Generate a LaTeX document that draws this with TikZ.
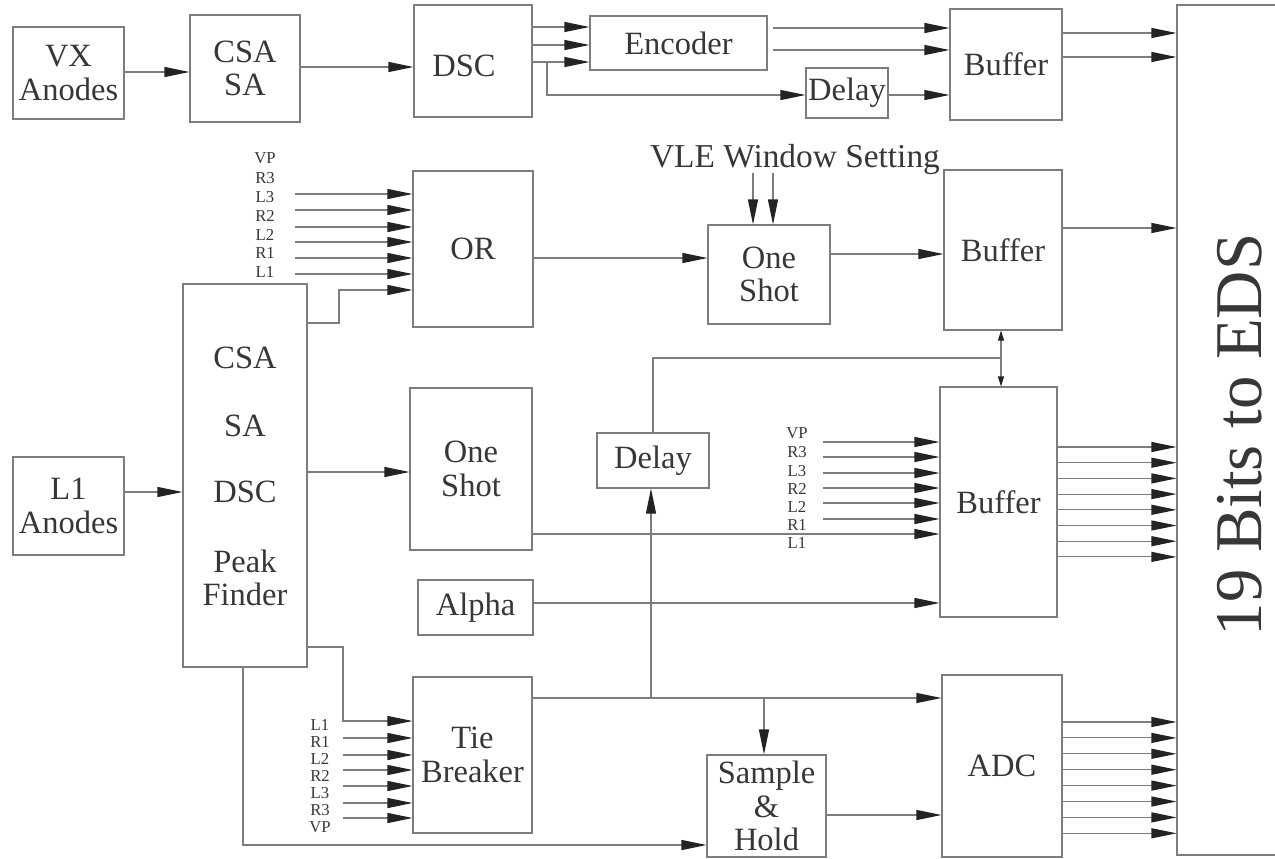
\documentclass[tikz,border=0pt]{standalone}
\usepackage{fontspec}
\setmainfont{Liberation Serif}
\usetikzlibrary{arrows.meta,fit,calc}
\definecolor{linegray}{RGB}{125,125,125}
\definecolor{txt}{RGB}{55,55,55}
\definecolor{tipc}{RGB}{35,35,35}
\begin{document}
\begin{tikzpicture}[x=0.02cm,y=-0.02cm,
  line/.style={draw=linegray, line width=0.6pt},
  box/.style={draw=linegray, line width=0.6pt, inner sep=0pt},
  lbl/.style={text=txt, inner sep=0pt, align=center, font=\fontsize{18.5}{19}\selectfont},
  arr/.style={line, -{Triangle[length=0.5cm,width=0.2cm,color=tipc]}},
  dbl/.style={line, {Triangle[length=0.2cm,width=0.12cm,color=tipc]}-{Triangle[length=0.2cm,width=0.12cm,color=tipc]}},
  sig/.style={text=txt, inner sep=0pt, font=\fontsize{9.5}{10}\selectfont}
]
\useasboundingbox (0,0) rectangle (1275,859);

% ---------- boxes ----------
\node[box, fit={(13,27) (124,119)}, label={[lbl]center:VX\\Anodes}] (vx) {};
\node[box, fit={(190,15) (300,122)}, label={[lbl]center:CSA\\SA}] (csa1) {};
\node[box, fit={(414,5) (532,117)}] (dsc) {};
\node[lbl] (dsct) at (464,66) {DSC};
\node[box, fit={(590,16) (767,70)}, label={[lbl]center:Encoder}] (enc) {};
\node[box, fit={(806,68) (888,118)}, label={[lbl]center:Delay}] (dly1) {};
\node[box, fit={(950,9) (1062,120)}, label={[lbl]center:Buffer}] (buf1) {};
\node[box, fit={(1177,5) (1320,855)}] (big) {};
\node[lbl, rotate=90, font=\fontsize{38}{40}\selectfont] (bigt) at (1240,435) {19 Bits to EDS};

\node[box, fit={(413,171) (533,327)}, label={[lbl]center:OR}] (or) {};
\node[box, fit={(708,225) (830,324)}, label={[lbl]center:One\\Shot}] (os1) {};
\node[box, fit={(944,170) (1062,330)}, label={[lbl]center:Buffer}] (buf2) {};
\node[lbl, font=\fontsize{19}{20}\selectfont] (vle) at (795,160) {VLE Window Setting};

\node[box, fit={(183,284) (307,667)}] (csa2) {};
\node[lbl] (c2a) at (245,358) {CSA};
\node[lbl] (c2b) at (245,426) {SA};
\node[lbl] (c2c) at (245,492) {DSC};
\node[lbl] (c2d) at (245,578) {Peak\\Finder};

\node[box, fit={(13,457) (124,555)}, label={[lbl]center:L1\\Anodes}] (l1a) {};
\node[box, fit={(410,388) (532,550)}, label={[lbl]center:One\\Shot}] (os2) {};
\node[box, fit={(597,433) (709,488)}, label={[lbl]center:Delay}] (dly2) {};
\node[box, fit={(418,580) (533,635)}, label={[lbl]center:Alpha}] (alpha) {};
\node[box, fit={(940,387) (1057,617)}, label={[lbl]center:Buffer}] (buf3) {};
\node[box, fit={(413,677) (532,833)}, label={[lbl]center:Tie\\Breaker}] (tie) {};
\node[box, fit={(707,755) (826,857)}, label={[lbl]center:Sample\\\&\\Hold}] (sh) {};
\node[box, fit={(942,675) (1062,857)}, label={[lbl]center:ADC}] (adc) {};

% ---------- top row ----------
\draw[arr] (vx.east |- 0,72) -- (csa1.west |- 0,72);
\draw[arr] (csa1.east |- 0,67) -- (dsc.west |- 0,67);
\foreach \y in {27,45,62} \draw[arr] (dsc.east |- 0,\y) -- (enc.west |- 0,\y);
\coordinate (br1) at (547,62);
\draw[arr] (br1) |- (dly1.west |- 0,95);
\foreach \y in {28,50} \draw[arr] ([xshift=0.1cm]enc.east |- 0,\y) -- (buf1.west |- 0,\y);
\draw[arr] (dly1.east |- 0,95) -- (buf1.west |- 0,95);
\foreach \y in {33,57} \draw[arr] (buf1.east |- 0,\y) -- (big.west |- 0,\y);

% ---------- OR row ----------
\foreach \t/\y [count=\k] in {VP/158,R3/178,L3/197,R2/216,L2/235,R1/253,L1/272}
  \node[sig] (ol\k) at (265,\y) {\t};
\foreach \y [count=\k] in {194,210,227,242,258,274} {
  \coordinate (ors\k) at (295,\y);
  \draw[arr] (ors\k) -- (or.west |- ors\k);
}
\coordinate (pk1) at (339,323);
\draw[arr] (csa2.east |- pk1) -- (pk1) |- (or.west |- 0,290);
\draw[arr] (or.east |- 0,258) -- (os1.west |- 0,258);
\foreach \x in {753,773} \draw[arr] (\x,173) -- (os1.north -| \x,0);
\draw[arr] (os1.east |- 0,254) -- (buf2.west |- 0,254);
\draw[arr] (buf2.east |- 0,228) -- (big.west |- 0,228);

% ---------- middle ----------
\draw[arr] (l1a.east |- 0,492) -- (csa2.west |- 0,492);
\draw[arr] (csa2.east |- 0,472) -- (os2.west |- 0,472);
\draw[arr] (os2.east |- 0,534) -- (buf3.west |- 0,534);
\foreach \t/\y [count=\k] in {VP/433,R3/452,L3/471,R2/489,L2/507,R1/525,L1/543}
  \node[sig] (bl\k) at (797,\y) {\t};
\foreach \y [count=\k] in {442,457,473,488,503,519} {
  \coordinate (bls\k) at (823,\y);
  \draw[arr] (bls\k) -- (buf3.west |- bls\k);
}
\draw[arr] (alpha.east |- 0,603) -- (buf3.west |- 0,603);
\foreach \i in {0,...,7} {
  \pgfmathsetmacro\yy{447+15.7*\i}
  \draw[arr] (buf3.east |- 0,\yy) -- (big.west |- 0,\yy);
}
\coordinate (dj) at (1001,358);
\draw[line] (dly2.north -| 653,0) |- (dj);
\draw[dbl] (buf2.south -| dj) -- (buf3.north -| dj);

% ---------- bottom ----------
\coordinate (pk2) at (343,647);
\draw[arr] (csa2.east |- pk2) -- (pk2) |- (tie.west |- 0,721);
\foreach \t/\y [count=\k] in {L1/725,R1/742,L2/759,R2/776,L3/793,R3/810,VP/827}
  \node[sig] (tl\k) at (320,\y) {\t};
\foreach \y [count=\k] in {738,755,770,786,803,818} {
  \coordinate (tls\k) at (343,\y);
  \draw[arr] (tls\k) -- (tie.west |- tls\k);
}
\coordinate (pk3) at (243,845);
\draw[arr] (csa2.south -| pk3) -- (pk3) -- (sh.west |- pk3);
\draw[arr] (tie.east |- 0,698) -- (adc.west |- 0,698);
\coordinate (j1) at (651,698);
\coordinate (j2) at (764,698);
\draw[arr] (j1) -- (dly2.south -| j1);
\draw[arr] (j2) -- (sh.north -| j2);
\draw[arr] (sh.east |- 0,815) -- (adc.west |- 0,815);
\foreach \i in {0,...,7} {
  \pgfmathsetmacro\yy{722+15.9*\i}
  \draw[arr] (adc.east |- 0,\yy) -- (big.west |- 0,\yy);
}
\end{tikzpicture}
\end{document}
